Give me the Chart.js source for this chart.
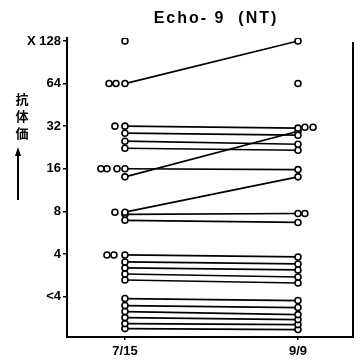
<!DOCTYPE html>
<html>
<head>
<meta charset="utf-8">
<script src="https://cdn.jsdelivr.net/npm/chart.js@4.4.0/dist/chart.umd.min.js"></script>
<style>
html, body { margin: 0; padding: 0; background: #fff; }
</style>
</head>
<body>
<canvas id="myChart" width="364" height="361"></canvas>
<script>
'use strict';

var dates = ['7/15', '9/9'];
var titerLabels = ['<4', '4', '8', '16', '32', '64', 'X 128'];
var titleText = 'Echo- 9  (NT)';
var axisText = ['抗', '体', '価'];

// paired sera, titre in log2 steps (<4 = 1 ... 128 = 7), small offsets keep ties apart
var titreJul = [6, 5, 4.835, 4.647, 4.482, 4, 3.81, 2.98, 2.93, 2.79,
                1.976, 1.812, 1.671, 1.529, 1.388,
                0.953, 0.788, 0.647, 0.506, 0.365, 0.247];
var titreSep = [7, 4.953, 4.788, 4.576, 4.435, 3.98, 4.88, 3.81, 2.95, 2.74,
                1.929, 1.765, 1.624, 1.459, 1.318,
                0.906, 0.741, 0.576, 0.459, 0.341, 0.224];

// single sera, drawn beside the columns
var singleJulX = [0, -0.092, -0.052, -0.058, -0.139, -0.104, -0.046, -0.058, -0.104, -0.064];
var singleJulY = [7, 6, 6, 5, 4, 4, 4, 2.98, 1.976, 1.976];
var singleSepX = [1, 1.04, 1.087, 1.04];
var singleSepY = [6, 4.976, 4.976, 2.95];

var datasets = [];
for (var i = 0; i < titreJul.length; i++) {
    datasets.push({
        data: [{x: 0, y: titreJul[i]}, {x: 1, y: titreSep[i]}],
        showLine: true,
        borderColor: '#000',
        borderWidth: 1.7,
        pointRadius: 3,
        pointBackgroundColor: '#fff',
        pointBorderColor: '#000',
        pointBorderWidth: 1.6
    });
}
var singles = [];
for (var j = 0; j < singleJulX.length; j++) singles.push({x: singleJulX[j], y: singleJulY[j]});
for (var k = 0; k < singleSepX.length; k++) singles.push({x: singleSepX[k], y: singleSepY[k]});
datasets.push({
    data: singles,
    showLine: false,
    pointRadius: 3,
    pointBackgroundColor: '#fff',
    pointBorderColor: '#000',
    pointBorderWidth: 1.6
});

var decorations = {
    id: 'decorations',
    afterDraw: function (chart) {
        var ctx = chart.ctx, area = chart.chartArea;
        ctx.save();
        ctx.fillStyle = '#000';
        ctx.strokeStyle = '#000';
        // right frame line
        ctx.lineWidth = 2;
        ctx.beginPath();
        ctx.moveTo(area.right, area.top + 4);
        ctx.lineTo(area.right, area.bottom + 1);
        ctx.stroke();
        // title
        ctx.font = 'bold 16px "Liberation Sans"';
        ctx.letterSpacing = '2px';
        ctx.textAlign = 'center';
        ctx.textBaseline = 'middle';
        ctx.fillText(titleText, (area.left + area.right) / 2 + 6, 19);
        ctx.letterSpacing = '0px';
        // vertical axis name with arrow
        ctx.font = 'bold 13px "Noto Sans CJK JP"';
        for (var n = 0; n < axisText.length; n++) {
            ctx.fillText(axisText[n], 22, 99 + n * 17);
        }
        ctx.lineWidth = 2;
        ctx.beginPath();
        ctx.moveTo(18, 200);
        ctx.lineTo(18, 152);
        ctx.stroke();
        ctx.beginPath();
        ctx.moveTo(18, 147);
        ctx.lineTo(15, 156);
        ctx.lineTo(21, 156);
        ctx.closePath();
        ctx.fill();
        ctx.restore();
    }
};

var config = {
    type: 'scatter',
    data: { datasets: datasets },
    options: {
        responsive: false,
        animation: false,
        layout: { padding: { top: 38, right: 11, bottom: 0, left: 0 } },
        plugins: {
            legend: { display: false },
            tooltip: { enabled: false }
        },
        scales: {
            x: {
                type: 'linear',
                min: -0.335,
                max: 1.318,
                afterBuildTicks: function (scale) { scale.ticks = [{value: 0}, {value: 1}]; },
                afterFit: function (scale) { scale.height = 24; },
                ticks: {
                    callback: function (v) { return dates[v]; },
                    color: '#000',
                    padding: 4,
                    font: { family: 'Liberation Sans', size: 13, weight: 'bold' }
                },
                grid: { drawOnChartArea: false, tickLength: 3, color: '#000', lineWidth: 1.5 },
                border: { display: true, color: '#000', width: 2 }
            },
            y: {
                type: 'linear',
                min: 0.05,
                max: 7.07,
                afterBuildTicks: function (scale) {
                    scale.ticks = [1, 2, 3, 4, 5, 6, 7].map(function (v) { return {value: v}; });
                },
                afterFit: function (scale) { scale.width = 67; },
                ticks: {
                    callback: function (v) { return titerLabels[v - 1]; },
                    color: '#000',
                    padding: 2,
                    font: { family: 'Liberation Sans', size: 13, weight: 'bold' }
                },
                grid: { drawOnChartArea: false, tickLength: 4, color: '#000', lineWidth: 1.5 },
                border: { display: true, color: '#000', width: 2 }
            }
        }
    },
    plugins: [decorations]
};

var ctx = document.getElementById('myChart').getContext('2d');
window.myChart = new Chart(ctx, config);
</script>
</body>
</html>
